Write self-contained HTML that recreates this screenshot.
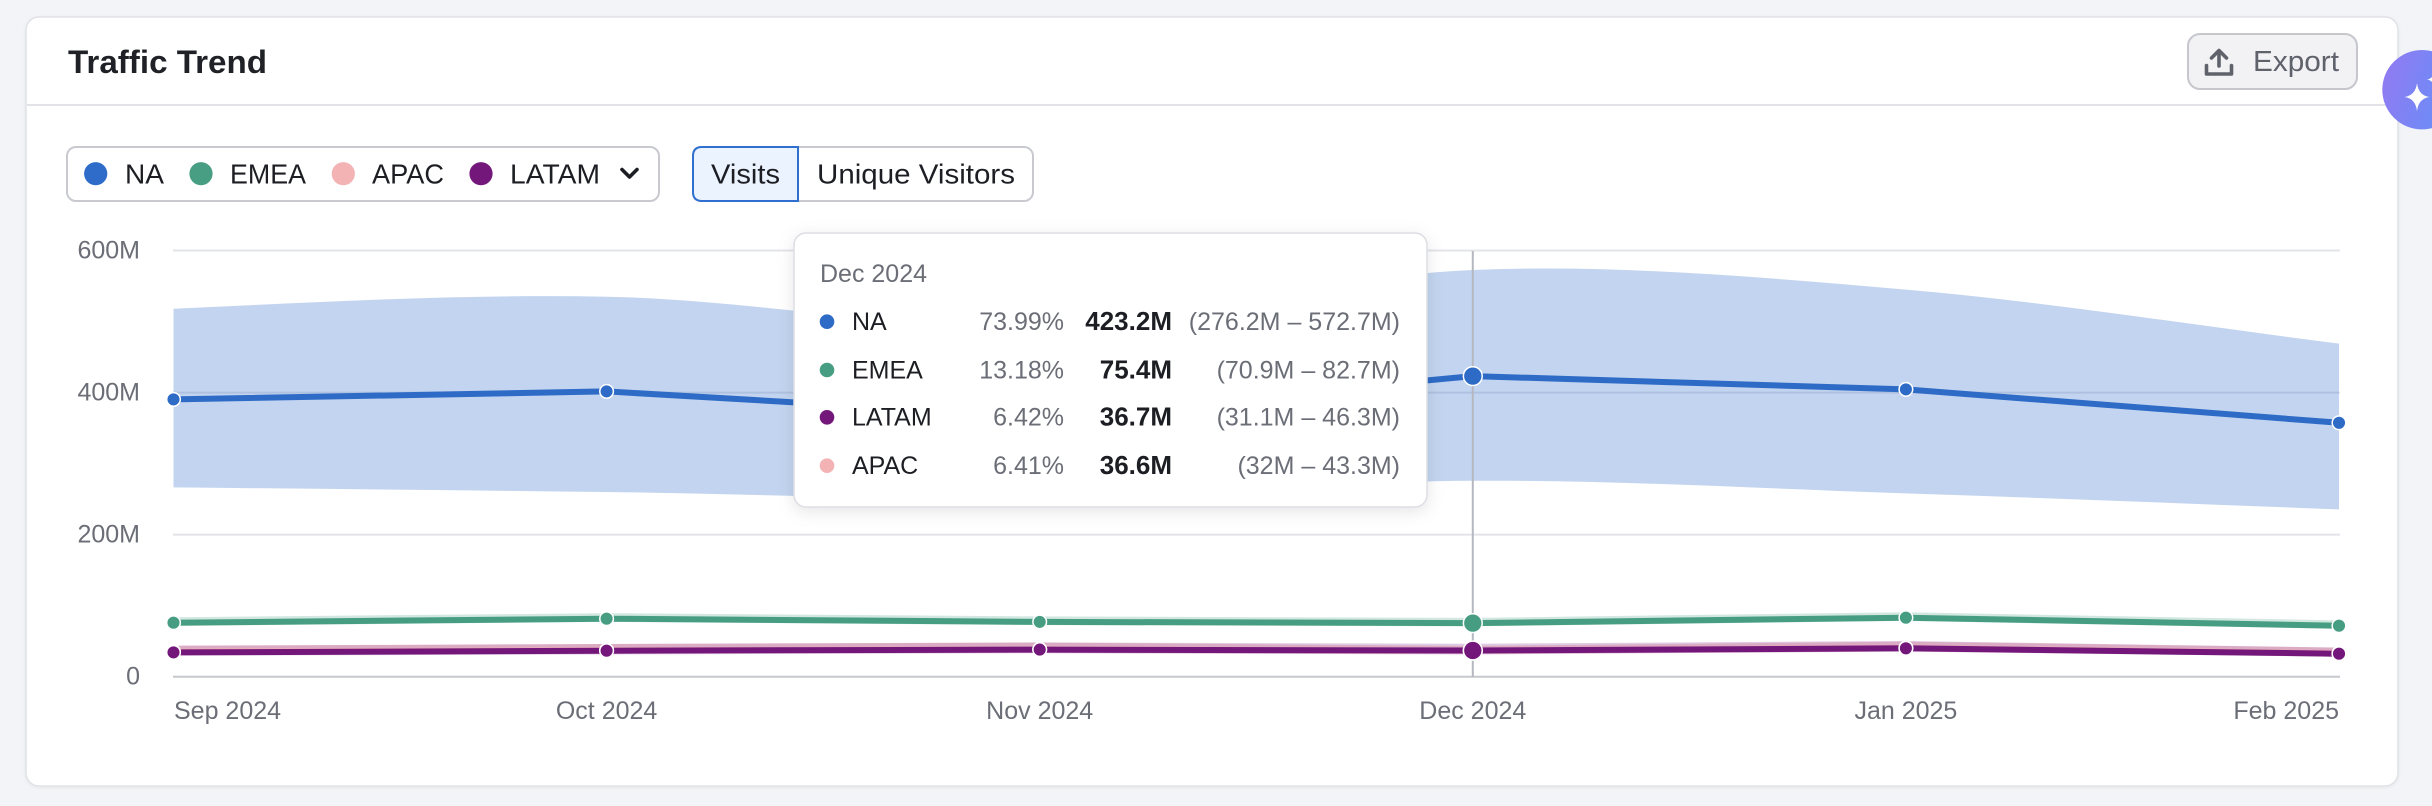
<!DOCTYPE html>
<html>
<head>
<meta charset="utf-8">
<style>
  html,body{margin:0;padding:0;background:#f3f4f7;}
  body{width:2432px;height:806px;overflow:hidden;}
  svg{display:block;font-family:"Liberation Sans", Arial, sans-serif;}
</style>
</head>
<body>
<svg width="2432" height="806" viewBox="0 0 2432 806" xmlns="http://www.w3.org/2000/svg">
  <defs>
    <filter id="cardsh" x="-5%" y="-5%" width="110%" height="115%">
      <feDropShadow dx="0" dy="1" stdDeviation="1.5" flood-color="#000" flood-opacity="0.06"/>
    </filter>
    <filter id="tipsh" x="-10%" y="-15%" width="120%" height="135%">
      <feDropShadow dx="0" dy="4" stdDeviation="8" flood-color="#000" flood-opacity="0.10"/>
    </filter>
    <linearGradient id="aig" x1="0" y1="0" x2="1" y2="0.3">
      <stop offset="0" stop-color="#9479f2"/>
      <stop offset="1" stop-color="#688ef7"/>
    </linearGradient>
  </defs>

  <rect x="0" y="0" width="2432" height="806" fill="#f3f4f7"/>

  <!-- Card -->
  <rect x="26" y="17" width="2372" height="769" rx="13" fill="#ffffff" stroke="#e1e2e7" stroke-width="1.5" filter="url(#cardsh)"/>
  <line x1="27" y1="105" x2="2397" y2="105" stroke="#e2e3e8" stroke-width="2"/>

  <!-- Title -->
  <text x="68" y="73" font-size="32" font-weight="700" fill="#1f2126" textLength="199" lengthAdjust="spacingAndGlyphs">Traffic Trend</text>

  <!-- Export button -->
  <rect x="2188" y="34" width="169" height="55" rx="12" fill="#f2f2f5" stroke="#c5c7cc" stroke-width="2"/>
  <g stroke="#5f626b" stroke-width="3.6" fill="none" stroke-linecap="round" stroke-linejoin="round">
    <line x1="2219" y1="51" x2="2219" y2="66"/>
    <polyline points="2211.5,58 2219,50.5 2226.5,58"/>
    <path d="M2206.5,65.5 V74 H2231.5 V65.5"/>
  </g>
  <text x="2253" y="71" font-size="29" fill="#5f626b" textLength="86" lengthAdjust="spacingAndGlyphs">Export</text>

  <!-- AI floating button -->
  <circle cx="2422" cy="89.7" r="39.7" fill="url(#aig)"/>
  <path d="M2417,83 Q2418.5,95.5 2429.5,97 Q2418.5,98.5 2417,111 Q2415.5,98.5 2404.5,97 Q2415.5,95.5 2417,83 Z" fill="#ffffff"/>
  <path d="M2434,72 Q2434.8,78.5 2441,79.5 Q2434.8,80.5 2434,87 Q2433.2,80.5 2427,79.5 Q2433.2,78.5 2434,72 Z" fill="#ffffff"/>

  <!-- Legend box -->
  <rect x="67" y="147" width="592" height="54" rx="9" fill="#ffffff" stroke="#c8cacf" stroke-width="2"/>
  <circle cx="95.7" cy="173.7" r="11.6" fill="#2f6cc9"/>
  <text x="125" y="183.5" font-size="28" fill="#1c1e23" textLength="39" lengthAdjust="spacingAndGlyphs">NA</text>
  <circle cx="201" cy="173.7" r="11.6" fill="#479e82"/>
  <text x="230" y="183.5" font-size="28" fill="#1c1e23" textLength="76" lengthAdjust="spacingAndGlyphs">EMEA</text>
  <circle cx="343.3" cy="173.7" r="11.6" fill="#f3b3b5"/>
  <text x="372" y="183.5" font-size="28" fill="#1c1e23" textLength="72" lengthAdjust="spacingAndGlyphs">APAC</text>
  <circle cx="481" cy="173.7" r="11.6" fill="#74177a"/>
  <text x="510" y="183.5" font-size="28" fill="#1c1e23" textLength="90" lengthAdjust="spacingAndGlyphs">LATAM</text>
  <polyline points="622,169.5 629.5,177 637,169.5" fill="none" stroke="#1c1e23" stroke-width="3.6" stroke-linecap="round" stroke-linejoin="round"/>

  <!-- Toggle -->
  <rect x="693" y="147" width="340" height="54" rx="9" fill="#ffffff" stroke="#c8cacf" stroke-width="2"/>
  <path d="M798,147 H702 Q693,147 693,156 V192 Q693,201 702,201 H798 Z" fill="#ebf3fe" stroke="#2f6fd0" stroke-width="2"/>
  <text x="711" y="183.5" font-size="28" fill="#1c1e23" textLength="69" lengthAdjust="spacingAndGlyphs">Visits</text>
  <text x="817" y="183.5" font-size="28" fill="#1c1e23" textLength="198" lengthAdjust="spacingAndGlyphs">Unique Visitors</text>

  <!-- Grid -->
  <g stroke="#e3e4ea" stroke-width="2">
    <line x1="173" y1="250.5" x2="2340" y2="250.5"/>
    <line x1="173" y1="392.6" x2="2340" y2="392.6"/>
    <line x1="173" y1="534.6" x2="2340" y2="534.6"/>
  </g>
  <line x1="173" y1="676.7" x2="2340" y2="676.7" stroke="#c6c8cd" stroke-width="2"/>

  <!-- Y labels -->
  <g font-size="25" fill="#6b6e76" text-anchor="end">
    <text x="140" y="258.5">600M</text>
    <text x="140" y="400.7">400M</text>
    <text x="140" y="542.7">200M</text>
    <text x="140" y="684.5">0</text>
  </g>

  <!-- X labels -->
  <g font-size="25" fill="#6b6e76">
    <text x="174" y="719">Sep 2024</text>
    <text x="606.6" y="719" text-anchor="middle">Oct 2024</text>
    <text x="1039.7" y="719" text-anchor="middle">Nov 2024</text>
    <text x="1472.8" y="719" text-anchor="middle">Dec 2024</text>
    <text x="1905.9" y="719" text-anchor="middle">Jan 2025</text>
    <text x="2339" y="719" text-anchor="end">Feb 2025</text>
  </g>

  <!-- NA band -->
  <path d="M173.5,308.8 C317.9,302.1 462.2,294.0 606.6,296.7 C751.0,299.4 895.3,329.6 1039.7,325.1 C1184.1,320.65 1328.4,275.9 1472.8,270.0 C1617.2,264.1 1761.5,277.3 1905.9,289.6 C2050.3,301.9 2194.6,325.6 2339,343.6 L2339,509.4 C2194.6,503.8 2050.3,498.2 1905.9,493.4 C1761.5,488.6 1617.2,480.0 1472.8,480.8 C1328.4,481.6 1184.1,496.5 1039.7,498.4 C895.3,500.3 751.0,493.8 606.6,492.0 C462.2,490.2 317.9,488.8 173.5,487.4 Z" fill="#2d6cc7" fill-opacity="0.29"/>

  <!-- EMEA band -->
  <path d="M173.5,617.2 L606.6,613.2 L1039.7,616.4 L1472.8,617.9 L1905.9,612.2 L2339,620.4 L2339,628.8 L1905.9,620.9 L1472.8,626.3 L1039.7,625.1 L606.6,621.9 L173.5,625.9 Z" fill="#479e82" fill-opacity="0.25"/>

  <!-- APAC band -->
  <path d="M173.5,645.6 L606.6,644.0 L1039.7,642.6 L1472.8,645.9 L1905.9,641.6 L2339,647.6 L2339,656.4 L1905.9,651.4 L1472.8,653.9 L1039.7,652.8 L606.6,653.4 L173.5,655.0 Z" fill="#f2a0a8" fill-opacity="0.45"/>

  <!-- LATAM band -->
  <path d="M173.5,645.8 L606.6,644.0 L1039.7,642.4 L1472.8,643.7 L1905.9,641.0 L2339,647.6 L2339,656.8 L1905.9,651.6 L1472.8,654.5 L1039.7,653.2 L606.6,654.5 L173.5,655.6 Z" fill="#74177a" fill-opacity="0.22"/>

  <!-- Crosshair -->
  <line x1="1472.8" y1="251" x2="1472.8" y2="677" stroke="#b5b8c1" stroke-width="2"/>

  <!-- Lines -->
  <g fill="none" stroke-width="6" stroke-linejoin="round" stroke-linecap="round">
    <polyline points="173.5,399.4 606.6,391.4 1039.7,416.7 1472.8,376.1 1905.9,389.4 2339,422.8" stroke="#2e6bc6"/>
    <polyline points="173.5,622.7 606.6,618.7 1039.7,621.9 1472.8,623.1 1905.9,617.7 2339,625.7" stroke="#479d82"/>
    <polyline points="173.5,651.7 606.6,650.3 1039.7,649.3 1472.8,650.6 1905.9,648.0 2339,653.2" stroke="#f2b0b5"/>
    <polyline points="173.5,652.4 606.6,650.7 1039.7,649.6 1472.8,650.5 1905.9,648.3 2339,653.7" stroke="#74177a"/>
  </g>

  <!-- Dots -->
  <g stroke="#ffffff" stroke-width="1.5">
    <g fill="#2e6bc6">
      <circle cx="173.5" cy="399.4" r="6.8"/>
      <circle cx="606.6" cy="391.4" r="6.8"/>
      <circle cx="1039.7" cy="416.7" r="6.8"/>
      <circle cx="1472.8" cy="376.1" r="9.4"/>
      <circle cx="1905.9" cy="389.4" r="6.8"/>
      <circle cx="2339" cy="422.8" r="6.8"/>
    </g>
    <g fill="#479d82">
      <circle cx="173.5" cy="622.7" r="6.8"/>
      <circle cx="606.6" cy="618.7" r="6.8"/>
      <circle cx="1039.7" cy="621.9" r="6.8"/>
      <circle cx="1472.8" cy="623.1" r="9.4"/>
      <circle cx="1905.9" cy="617.7" r="6.8"/>
      <circle cx="2339" cy="625.7" r="6.8"/>
    </g>
    <g fill="#f2b0b5">
      <circle cx="173.5" cy="651.7" r="6.8"/>
      <circle cx="606.6" cy="650.3" r="6.8"/>
      <circle cx="1039.7" cy="649.3" r="6.8"/>
      <circle cx="1472.8" cy="650.6" r="9.4"/>
      <circle cx="1905.9" cy="648.0" r="6.8"/>
      <circle cx="2339" cy="653.2" r="6.8"/>
    </g>
    <g fill="#74177a">
      <circle cx="173.5" cy="652.4" r="6.8"/>
      <circle cx="606.6" cy="650.7" r="6.8"/>
      <circle cx="1039.7" cy="649.6" r="6.8"/>
      <circle cx="1472.8" cy="650.5" r="9.4"/>
      <circle cx="1905.9" cy="648.3" r="6.8"/>
      <circle cx="2339" cy="653.7" r="6.8"/>
    </g>
  </g>

  <!-- Tooltip -->
  <rect x="794" y="233" width="633" height="274" rx="12" fill="#ffffff" stroke="#dcdde3" stroke-width="1.5" filter="url(#tipsh)"/>
  <text x="820" y="282" font-size="25" fill="#6b6e76">Dec 2024</text>

  <circle cx="827" cy="321.7" r="7.3" fill="#2e6bc6"/>
  <circle cx="827" cy="370" r="7.3" fill="#479d82"/>
  <circle cx="827" cy="417.3" r="7.3" fill="#74177a"/>
  <circle cx="827" cy="465.7" r="7.3" fill="#f3b3b5"/>

  <g font-size="25" fill="#1c1e23">
    <text x="852" y="330">NA</text>
    <text x="852" y="378.3">EMEA</text>
    <text x="852" y="425.6">LATAM</text>
    <text x="852" y="474">APAC</text>
  </g>
  <g font-size="25" fill="#6b6e76" text-anchor="end">
    <text x="1064" y="330">73.99%</text>
    <text x="1064" y="378.3">13.18%</text>
    <text x="1064" y="425.6">6.42%</text>
    <text x="1064" y="474">6.41%</text>
  </g>
  <g font-size="26" font-weight="700" fill="#1c1e23" text-anchor="end">
    <text x="1172" y="330">423.2M</text>
    <text x="1172" y="378.3">75.4M</text>
    <text x="1172" y="425.6">36.7M</text>
    <text x="1172" y="474">36.6M</text>
  </g>
  <g font-size="25" fill="#6b6e76" text-anchor="end">
    <text x="1400" y="330">(276.2M – 572.7M)</text>
    <text x="1400" y="378.3">(70.9M – 82.7M)</text>
    <text x="1400" y="425.6">(31.1M – 46.3M)</text>
    <text x="1400" y="474">(32M – 43.3M)</text>
  </g>
</svg>
</body>
</html>
